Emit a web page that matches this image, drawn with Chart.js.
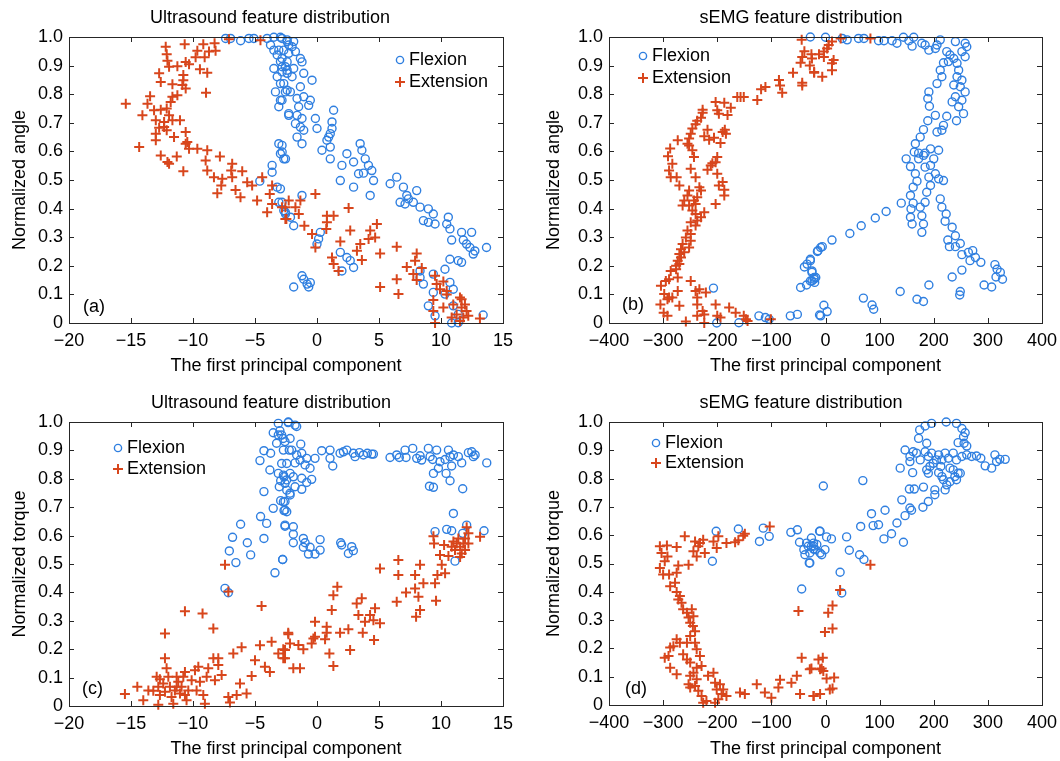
<!DOCTYPE html>
<html><head><meta charset="utf-8">
<script src="https://cdn.jsdelivr.net/npm/chart.js@4/dist/chart.umd.min.js"></script>
<style>
body{margin:0;background:#fff;width:1060px;height:761px;overflow:hidden;position:relative}
canvas{position:absolute;display:block}
</style></head>
<body>
<canvas id="ca" width="530" height="385" style="left:0;top:0"></canvas>
<canvas id="cb" width="530" height="385" style="left:530px;top:0"></canvas>
<canvas id="cc" width="530" height="376" style="left:0;top:385px"></canvas>
<canvas id="cd" width="530" height="376" style="left:530px;top:385px"></canvas>
<script>
// ---------- tick values ----------
const xTicksUS = [-20,-15,-10,-5,0,5,10,15];
const xTicksEMG = [-400,-300,-200,-100,0,100,200,300,400];
const yTicks = [0,0.1,0.2,0.3,0.4,0.5,0.6,0.7,0.8,0.9,1.0];

// ---------- (a) Ultrasound, angle ----------
const flexionA = [[-7.37,0.995],[-6.97,0.995],[-6.16,0.987],[-5.49,0.995],[-5.09,0.995],[-4.02,0.995],[-3.48,0.999],[-2.95,0.999],[-2.41,0.99],[-2.28,0.972],[-3.75,0.972],[-3.48,0.954],[-3.08,0.954],[-3.21,0.937],[-2.95,0.914],[-3.48,0.89],[-2.81,0.896],[-2.41,0.884],[-3.21,0.861],[-2.95,0.837],[-3.35,0.808],[-2.41,0.814],[-2.95,0.779],[-3.08,0.756],[-2.28,0.732],[-3.08,0.627],[-2.81,0.598],[-2.54,0.574],[-3.62,0.551],[-3.62,0.527],[-3.21,0.475],[-3.08,0.422],[-2.54,0.381],[-4.61,0.496],[-2.14,0.37],
[-2.82,0.995],[-2.41,0.984],[-2.01,0.966],[-1.88,0.984],[-2.68,0.954],[-2.28,0.943],[-1.74,0.949],[-1.34,0.925],[-2.82,0.925],[-2.41,0.913],[-2.55,0.896],[-1.88,0.89],[-1.21,0.913],[-2.82,0.878],[-2.41,0.873],[-2.01,0.861],[-1.07,0.873],[-0.4,0.849],[-2.68,0.837],[-1.34,0.826],[-2.15,0.808],[-2.55,0.808],[-2.82,0.779],[-1.61,0.785],[-1.07,0.791],[-0.54,0.779],[-0.67,0.761],[-1.48,0.756],[-2.28,0.726],[-1.61,0.726],[-1.21,0.715],[-1.74,0.697],[-1.34,0.685],[-1.07,0.674],[-1.61,0.65],[-1.21,0.627],[-2.82,0.621],[-2.68,0.574],[-2.95,0.592],
[0.4,0.604],[1.07,0.615],[1.07,0.574],[0.8,0.639],[0.94,0.65],[1.07,0.662],[1.21,0.68],[1.21,0.703],[1.34,0.744],[-0.13,0.715],[0.0,0.68],[2.01,0.551],[1.88,0.498],[2.41,0.592],[2.95,0.563],[3.35,0.522],[3.48,0.627],[3.62,0.604],[3.89,0.574],[4.15,0.551],[4.42,0.533],[4.56,0.498],[4.29,0.446],[2.95,0.475],[3.75,0.524],
[5.9,0.487],[6.43,0.51],[6.97,0.475],[7.24,0.446],[6.7,0.422],[7.1,0.416],[7.37,0.434],[8.04,0.463],[7.77,0.422],[8.31,0.405],[8.98,0.399],[9.38,0.381],[8.58,0.358],[8.98,0.352],[9.52,0.346],[10.59,0.37],[10.46,0.346],[10.72,0.329],[10.86,0.29],[11.66,0.317],[12.47,0.317],[11.8,0.29],[12.06,0.276],[12.33,0.264],[12.6,0.241],[12.73,0.252],[13.67,0.264],[10.72,0.223],[11.39,0.218],[11.66,0.212],[10.32,0.188],[8.31,0.182],[8.31,0.159],[9.38,0.171],[9.38,0.107],[8.98,0.06],[9.52,0.025],[10.99,0.118],[10.72,0.142],[10.99,0.06],[11.39,0.03],[10.86,0.0],[11.39,0.001],[13.4,0.028],[8.58,0.136],[10.32,0.101],
[-1.88,0.126],[-1.21,0.165],[-1.07,0.153],[-0.8,0.136],[-0.67,0.126],[-0.54,0.141],[0.27,0.317],[0.13,0.294],[0.0,0.276],[1.88,0.247],[2.41,0.229],[2.68,0.218],[2.95,0.194],[2.01,0.182],[-2.95,0.469],[-2.82,0.422],[-2.68,0.393],[-1.88,0.34],[-1.21,0.446],[-2.55,0.387]];
const extensionA = [[-12.2,0.966],[-10.67,0.975],[-9.17,0.975],[-8.26,0.978],[-9.65,0.952],[-8.71,0.949],[-8.18,0.952],[-12.12,0.94],[-9.79,0.929],[-9.06,0.929],[-12.06,0.917],[-10.59,0.913],[-11.93,0.896],[-11.26,0.898],[-10.32,0.905],[-9.44,0.887],[-8.85,0.875],[-12.73,0.873],[-12.6,0.843],[-10.78,0.867],[-10.78,0.849],[-11.66,0.835],[-10.86,0.832],[-10.59,0.82],[-8.95,0.805],[-13.46,0.793],[-11.66,0.791],[-11.26,0.796],[-15.42,0.767],[-13.67,0.767],[-11.8,0.773],[-14.08,0.726],[-13.14,0.744],[-12.6,0.746],[-12.12,0.75],[-11.93,0.726],[-13.0,0.709],[-12.33,0.703],[-11.66,0.709],[-11.05,0.709],[-12.73,0.683],[-12.33,0.685],[-13.0,0.662],[-12.12,0.674],[-11.53,0.65],[-13.0,0.639],[-10.59,0.668],[-10.46,0.633],[-14.34,0.615],[-10.59,0.627],[-10.32,0.609],[-9.65,0.609],[-8.85,0.604],[-12.6,0.586],[-11.93,0.557],[-11.31,0.582],[-12.06,0.563],[-10.78,0.531],[-8.98,0.568],[-7.83,0.582],[-8.85,0.533],[-8.31,0.51],[-7.64,0.504],[-7.72,0.481],[-6.84,0.557],[-6.92,0.533],[-6.03,0.531],[-6.84,0.51],[-5.63,0.492],[-5.23,0.481],[-6.57,0.465],[-6.17,0.44],[-8.04,0.454],[-4.83,0.428],[-4.42,0.51],[-3.62,0.481],[-3.81,0.451],[-3.62,0.416],[-4.02,0.387],[-2.82,0.405],[-2.47,0.364],[-4.56,0.989],[-7.1,0.992],
[-2.28,0.428],[-1.34,0.428],[-2.55,0.405],[-1.74,0.405],[-2.55,0.364],[-1.47,0.381],[-1.02,0.34],[-0.13,0.451],[0.8,0.375],[1.34,0.375],[0.8,0.352],[0.75,0.329],[-0.4,0.311],[-0.13,0.264],[2.55,0.402],[2.68,0.323],[1.88,0.285],[1.21,0.229],[1.34,0.206],[1.74,0.182],[3.49,0.276],[3.22,0.253],[3.62,0.22],[4.16,0.294],[4.29,0.323],[4.69,0.299],[4.83,0.346],[5.09,0.243],[6.43,0.267],[6.43,0.153],[6.57,0.101],[5.09,0.126],[7.24,0.196],[7.91,0.218],[8.04,0.243],[7.77,0.171],[8.04,0.15],[8.45,0.192],[9.52,0.165],[10.19,0.145],[9.92,0.118],[10.46,0.112],[9.38,0.08],[10.19,0.054],[10.99,0.065],[11.53,0.089],[11.66,0.054],[12.06,0.042],[11.8,0.019],[11.26,0.03],[12.2,0.025],[13.14,0.016],[9.38,0.042],[9.52,0.0],[10.86,0.019],[11.53,0.007],[11.66,0.083],[11.93,0.065],[10.46,0.1],[9.65,0.136]];

// ---------- (b) sEMG, angle ----------
const flexionB = [[-207,0.122],[-201,0.0],[-160,0.001],[-123,0.025],[-111,0.019],[-104,0.013],[-65,0.025],[-52,0.03],[-11,0.028],[-46,0.124],[-35,0.133],[-28,0.147],[-21,0.153],[-39,0.196],[-34,0.206],[-28,0.223],[-25,0.177],[-18,0.159],[-14,0.253],[-9,0.264],
[-28,1.0],[0,0.999],[31,0.995],[40,0.99],[61,0.995],[71,0.995],[98,0.987],[108,0.987],[123,0.987],[132,0.978],[144,0.999],[154,0.987],[160,0.968],[163,0.999],[178,0.978],[184,0.972],[191,0.954],[203,0.96],[206,0.972],[212,0.99],[240,0.984],[258,0.978],[261,0.966],
[224,0.949],[230,0.937],[227,0.914],[218,0.91],[212,0.884],[215,0.861],[206,0.837],[191,0.808],[189,0.785],[192,0.758],[237,0.925],[243,0.908],[252,0.949],[258,0.931],[246,0.884],[243,0.861],[252,0.849],[249,0.826],[258,0.808],[237,0.832],[240,0.791],[234,0.773],[246,0.756],[252,0.779],[255,0.732],[242,0.707],[224,0.723],[218,0.691],[215,0.674],[206,0.668],[203,0.726],[189,0.707],[181,0.676],[175,0.65],[166,0.627],[164,0.598],[172,0.594],[184,0.594],[194,0.609],[209,0.604],[200,0.574],[181,0.586],[172,0.574],[149,0.574],[157,0.547],[166,0.522],[169,0.496],[162,0.475],[157,0.446],[162,0.419],[158,0.399],[157,0.37],[160,0.346],[175,0.405],[178,0.375],[181,0.346],[178,0.317],[184,0.422],[187,0.457],[194,0.481],[191,0.51],[184,0.545],[194,0.551],[203,0.522],[209,0.504],[218,0.498],[212,0.434],[215,0.405],[223,0.381],[221,0.356],[234,0.335],[240,0.305],[226,0.29],[229,0.267],[240,0.267],[249,0.278],[252,0.239],[264,0.247],[272,0.253],[267,0.218],[277,0.229],[287,0.212],[252,0.185],[234,0.161],[313,0.204],[317,0.188],[323,0.177],[327,0.153],[315,0.161],[293,0.133],[307,0.126],[249,0.11],[248,0.098],[191,0.133],[169,0.083],[181,0.075],[138,0.11],[86,0.063],[89,0.048],[70,0.087],[-3,0.062],[3,0.04],[-9,0.025],
[12,0.29],[-6,0.267],[-15,0.25],[-28,0.218],[-25,0.182],[-21,0.159],[-20,0.142],[-25,0.147],[45,0.313],[66,0.34],[92,0.367],[112,0.39],[140,0.419]];
const extensionB = [[-44,0.99],[-39,0.95],[-43,0.93],[-26,0.94],[-12,0.94],[-29,0.9],[-21,0.875],[-46,0.91],[-60,0.875],[-43,0.84],[-43,0.83],[-86,0.85],[-84,0.83],[-80,0.805],[-111,0.825],[-119,0.817],[-126,0.78],[-151,0.79],[-157,0.79],[-163,0.79],
[83,0.995],[28,0.995],[12,0.984],[6,0.972],[3,0.96],[-3,0.949],[-3,0.93],[-25,0.925],[-21,0.878],[-6,0.861],[15,0.92],[12,0.908],[12,0.884],
[-203,0.773],[-187,0.77],[-175,0.753],[-200,0.744],[-197,0.732],[-181,0.727],[-227,0.746],[-227,0.735],[-230,0.718],[-237,0.707],[-240,0.695],[-246,0.68],[-249,0.662],[-252,0.645],[-255,0.627],[-218,0.676],[-224,0.653],[-215,0.641],[-186,0.676],[-184,0.662],[-206,0.648],[-194,0.629],[-190,0.668],[-273,0.639],[-287,0.61],[-291,0.583],[-283,0.557],[-289,0.533],[-286,0.51],[-275,0.51],[-270,0.481],[-252,0.621],[-246,0.604],[-243,0.58],[-249,0.539],[-240,0.51],[-233,0.475],[-230,0.463],[-212,0.551],[-218,0.536],[-209,0.559],[-200,0.58],[-203,0.562],[-200,0.522],[-197,0.481],[-190,0.493],[-187,0.466],[-187,0.446],[-203,0.416],[-252,0.463],[-255,0.446],[-261,0.428],[-264,0.411],[-252,0.411],[-246,0.393],[-240,0.416],[-237,0.44],[-243,0.428],[-240,0.381],[-237,0.358],[-240,0.341],[-224,0.387],[-230,0.37],[-249,0.352],[-255,0.323],[-258,0.299],[-264,0.276],[-267,0.258],[-270,0.241],[-273,0.218],[-276,0.2],[-249,0.311],[-249,0.288],[-252,0.264],[-261,0.247],[-267,0.229],[-270,0.206],[-276,0.188],[-273,0.159],[-286,0.182],[-289,0.153],[-295,0.147],[-304,0.13],[-298,0.101],[-292,0.083],[-289,0.089],[-305,0.065],[-299,0.036],[-292,0.025],[-283,0.089],[-273,0.112],[-270,0.06],[-258,0.005],[-249,0.147],[-240,0.112],[-237,0.089],[-237,0.065],[-233,0.118],[-221,0.107],[-227,0.042],[-224,0.03],[-224,0.0],[-203,0.065],[-200,0.025],[-194,0.019],[-178,0.054],[-166,0.036],[-151,0.025],[-147,0.013],[-144,0.007],[-101,0.013],[-237,0.025]];

// ---------- (c) Ultrasound, torque ----------
const flexionC = [[-7.42,0.414],[-7.15,0.399],[-7.07,0.546],[-6.81,0.594],[-6.54,0.505],[-6.16,0.64],[-5.62,0.575],[-5.35,0.532],[-4.6,0.864],[-4.55,0.667],[-4.28,0.755],[-4.28,0.59],[-4.06,0.643],[-4.28,0.899],[-3.8,0.831],[-3.74,0.89],[-3.53,0.962],[-3.53,0.696],[-3.39,0.469],[-3.26,0.925],[-3.12,0.995],[-3.12,0.954],[-3.12,0.819],[-3.04,0.772],[-2.93,0.723],[-2.85,0.854],[-2.77,0.516],[-2.72,0.942],[-2.66,0.688],[-2.58,0.637],[-2.45,0.796],[-2.32,0.998],[-2.24,0.901],[-2.18,0.749],[-2.99,0.969],[-2.66,0.807],[-2.93,0.793],[-2.58,0.72],
[-2.31,1.0],[-1.77,0.989],[-1.64,0.984],[-2.85,0.954],[-2.58,0.931],[-2.17,0.942],[-2.71,0.901],[-2.04,0.901],[-1.31,0.922],[-1.64,0.884],[-1.23,0.89],[-2.44,0.854],[-1.77,0.856],[-1.37,0.866],[-0.83,0.872],[-0.96,0.849],[-0.16,0.872],[-0.56,0.837],[-2.71,0.813],[-2.17,0.819],[-1.91,0.807],[-1.23,0.802],[-0.43,0.798],[-0.83,0.787],[-2.58,0.784],[-1.77,0.772],[-2.44,0.76],[-1.23,0.763],[-2.17,0.743],[-2.71,0.719],[-2.58,0.69],[-2.44,0.684],[-2.58,0.633],[-1.91,0.631],[-1.91,0.605],[-1.91,0.575],[-1.1,0.59],[-0.96,0.575],[-1.1,0.559],[-0.56,0.559],[-0.69,0.535],[-0.16,0.535],[0.25,0.549],[0.25,0.586],[-2.77,0.516],[1.91,0.575],[1.99,0.567],[2.53,0.537],[2.8,0.561],[2.93,0.547],
[0.38,0.899],[1.05,0.901],[1.05,0.872],[1.27,0.845],[1.86,0.89],[2.13,0.895],[2.4,0.901],[2.93,0.89],[3.07,0.878],[3.42,0.892],[3.74,0.884],[4.06,0.89],[4.41,0.887],[4.55,0.887],[5.89,0.875],[6.43,0.884],[6.64,0.875],[7.1,0.901],[7.18,0.875],[7.72,0.907],[8.04,0.872],[8.31,0.881],[8.44,0.866],[8.98,0.907],[9.12,0.878],[9.33,0.868],[9.65,0.901],[9.39,0.819],[9.79,0.837],[9.92,0.86],[10.33,0.868],[10.41,0.819],[10.6,0.901],[10.73,0.878],[10.73,0.793],[10.86,0.845],[11.0,0.884],[11.4,0.878],[11.67,0.856],[11.75,0.765],[12.21,0.892],[12.48,0.895],[12.61,0.878],[12.75,0.884],[13.69,0.856],[9.07,0.774],[9.39,0.77],[11.0,0.678],[9.52,0.614],[10.46,0.622],[10.86,0.617],[11.13,0.51],[12.07,0.637],[13.47,0.617],[11.75,0.608]];
const extensionC = [[-15.49,0.042],[-14.49,0.068],[-14.01,0.02],[-13.6,0.055],[-13.2,0.054],[-12.8,0.068],[-12.67,0.039],[-12.8,0.004],[-12.4,0.079],[-12.26,0.05],[-12.26,0.255],[-12.26,0.168],[-12.13,0.133],[-11.99,0.103],[-11.86,0.068],[-11.73,0.032],[-11.59,0.008],[-11.46,0.055],[-11.32,0.103],[-11.19,0.085],[-11.05,0.044],[-10.92,0.068],[-10.78,0.103],[-10.65,0.12],[-10.65,0.334],[-10.65,0.039],[-10.52,0.02],[-10.38,0.055],[-10.11,0.091],[-9.84,0.126],[-9.71,0.055],[-9.57,0.138],[-9.44,0.085],[-9.23,0.326],[-9.17,0.039],[-9.04,0.008],[-8.9,0.103],[-8.77,0.133],[-8.36,0.273],[-8.36,0.168],[-8.23,0.091],[-7.96,0.168],[-7.96,0.144],[-7.69,0.109],[-7.42,0.497],[-7.15,0.403],[-7.15,0.032],[-7.02,0.012],[-6.75,0.185],[-6.48,0.039],[-6.21,0.079],[-6.08,0.207],[-5.68,0.044],[-5.27,0.106],[-5.0,0.161],[-4.6,0.214],[-4.47,0.352],[-4.2,0.138],[-3.8,0.12],[-3.66,0.226],[-3.12,0.185],[-2.72,0.168],[-2.72,0.2],[-2.32,0.258],[-2.18,0.22],[-12.67,0.094],[-12.93,0.103],[-11.32,0.068],
[-2.58,0.197],[-2.58,0.168],[-2.31,0.253],[-1.91,0.133],[-1.5,0.215],[-1.37,0.133],[-1.1,0.2],[-0.43,0.22],[-0.29,0.238],[-0.16,0.297],[-0.16,0.244],[0.65,0.235],[0.78,0.279],[0.78,0.258],[1.0,0.185],[1.32,0.141],[1.19,0.338],[1.32,0.39],[1.64,0.42],[1.86,0.258],[2.53,0.27],[2.67,0.197],[3.2,0.361],[3.34,0.32],[3.61,0.379],[3.69,0.258],[3.87,0.297],[4.28,0.32],[4.55,0.302],[4.68,0.344],[4.6,0.232],[5.08,0.484],[5.08,0.291],[6.43,0.367],[6.56,0.514],[6.56,0.461],[7.18,0.4],[7.91,0.461],[7.91,0.414],[7.99,0.314],[8.18,0.385],[8.31,0.497],[8.31,0.338],[8.58,0.432],[9.39,0.598],[9.44,0.572],[9.52,0.432],[9.6,0.371],[9.71,0.461],[9.92,0.532],[10.06,0.497],[10.25,0.567],[10.33,0.467],[10.6,0.528],[10.86,0.561],[11.0,0.579],[11.13,0.549],[11.27,0.572],[11.4,0.59],[11.54,0.561],[11.67,0.537],[11.8,0.572],[11.94,0.59],[12.07,0.629],[12.21,0.608],[12.21,0.572],[11.94,0.549],[11.54,0.525],[13.15,0.596]];

// ---------- (d) sEMG, torque ----------
const flexionD = [[-209,0.508],[-202,0.614],[-161,0.622],[-122,0.578],[-115,0.625],[-104,0.596],[-64,0.61],[-52,0.619],[-48,0.575],[-44,0.41],[-40,0.549],[-38,0.531],[-35,0.572],[-32,0.561],[-30,0.502],[-29,0.537],[-26,0.59],[-22,0.561],[-19,0.549],[-11,0.614],[-10,0.537],
[-29,0.502],[-26,0.561],[-22,0.572],[-16,0.567],[-22,0.551],[-7,0.531],[-1,0.549],[-10,0.614],[2,0.594],[11,0.587],[-4,0.774],[27,0.469],[30,0.396],[39,0.594],[44,0.547],[63,0.531],[71,0.514],[65,0.631],[69,0.793],[85,0.676],[88,0.634],[98,0.637],[110,0.688],[108,0.587],[122,0.605],[132,0.643],[144,0.575],[141,0.725],[147,0.669],[156,0.696],[159,0.688],[155,0.763],[164,0.763],[161,0.821],[138,0.837],[181,0.77],[180,0.699],[190,0.719],[202,0.76],[202,0.743],
[147,0.901],[156,0.878],[156,0.86],[162,0.895],[168,0.89],[175,0.866],[184,0.895],[187,0.925],[190,0.878],[196,0.89],[199,0.854],[209,0.884],[215,0.866],[221,0.89],[227,0.872],[236,0.89],[242,0.866],[252,0.878],[261,0.884],[270,0.878],[279,0.88],[287,0.872],[295,0.845],[307,0.837],[313,0.884],[316,0.86],[322,0.868],[332,0.868],[172,0.942],[174,0.972],[184,0.986],[196,0.995],[223,1.0],[242,0.995],[252,0.977],[258,0.962],[255,0.948],[256,0.925],[245,0.927],[261,0.915],[187,0.831],[190,0.819],[209,0.821],[215,0.807],[218,0.796],[224,0.778],[221,0.76],[230,0.789],[239,0.807],[242,0.796],[245,0.819],[249,0.819],[230,0.837],[236,0.831],[205,0.866],[193,0.843],[213,0.843]];
const extensionD = [[-306,0.561],[-303,0.537],[-293,0.564],[-292,0.525],[-297,0.508],[-306,0.484],[-300,0.461],[-289,0.461],[-275,0.467],[-272,0.493],[-253,0.496],[-275,0.558],[-260,0.596],[-241,0.578],[-244,0.543],[-238,0.525],[-235,0.561],[-232,0.572],[-226,0.584],[-223,0.537],[-207,0.578],[-201,0.555],[-198,0.596],[-183,0.572],[-167,0.575],[-161,0.582],[-152,0.598],[-149,0.605],[-103,0.631],
[-287,0.42],[-278,0.432],[-275,0.399],[-272,0.373],[-269,0.385],[-266,0.361],[-263,0.338],[-256,0.326],[-253,0.309],[-250,0.291],[-247,0.338],[-244,0.314],[-245,0.279],[-241,0.261],[-250,0.244],[-256,0.22],[-269,0.22],[-275,0.232],[-281,0.208],[-287,0.203],[-290,0.173],[-297,0.167],[-287,0.132],[-275,0.109],[-263,0.179],[-256,0.161],[-250,0.15],[-241,0.22],[-238,0.197],[-232,0.173],[-238,0.132],[-229,0.138],[-244,0.114],[-250,0.103],[-253,0.073],[-250,0.062],[-241,0.067],[-238,0.091],[-235,0.05],[-229,0.032],[-226,0.008],[-220,0.014],[-217,0.103],[-207,0.114],[-204,0.079],[-201,0.055],[-195,0.073],[-192,0.039],[-189,0.055],[-183,0.032],[-198,0.02],[-204,0.008],[-158,0.044],[-149,0.039],[-127,0.073],[-112,0.044],[-100,0.026],[-87,0.062],[-84,0.089],[-63,0.079],[-53,0.103],[-47,0.039],[-44,0.167],[-29,0.126],[-22,0.032],[-13,0.161],[-10,0.126],[-50,0.332],
[-26,0.129],[-7,0.129],[-5,0.167],[-4,0.12],[2,0.094],[16,0.097],[8,0.055],[13,0.058],[-22,0.032],[-10,0.039],[-1,0.258],[13,0.27],[5,0.326],[13,0.352],[27,0.406],[83,0.496]];

// ---------- styling ----------
const BLUE = '#2f7fe0';
const RED = '#d8461c';
const FONT = '"Liberation Sans", Arial, Helvetica, sans-serif';
Chart.defaults.font.family = FONT;
Chart.defaults.color = '#000';

const framePlugin = {
  id: 'frame',
  afterDraw(chart, args, o) {
    const ctx = chart.ctx, a = chart.chartArea;
    const xs = chart.scales.x, ys = chart.scales.y;
    ctx.save();
    ctx.strokeStyle = '#262626';
    ctx.lineWidth = 1;
    ctx.strokeRect(Math.round(a.left) + 0.5, Math.round(a.top) + 0.5, Math.round(a.right - a.left), Math.round(a.bottom - a.top));
    ctx.beginPath();
    xs.ticks.forEach(t => {
      const p = Math.round(xs.getPixelForValue(t.value)) + 0.5;
      ctx.moveTo(p, a.bottom); ctx.lineTo(p, a.bottom - 5);
      ctx.moveTo(p, a.top); ctx.lineTo(p, a.top + 5);
    });
    ys.ticks.forEach(t => {
      const p = Math.round(ys.getPixelForValue(t.value)) + 0.5;
      ctx.moveTo(a.left, p); ctx.lineTo(a.left + 5, p);
      ctx.moveTo(a.right, p); ctx.lineTo(a.right - 5, p);
    });
    ctx.stroke();
    // title
    ctx.fillStyle = '#000';
    ctx.font = '18px ' + FONT;
    ctx.textAlign = 'center';
    ctx.textBaseline = 'middle';
    ctx.fillText(o.title, o.titleX, o.titleY);
    // panel label
    ctx.textAlign = 'left';
    ctx.fillText(o.label, o.labelX, o.labelY);
    // legend
    const L = o.legend;
    ctx.fillText('Flexion', L.x + 9, L.y1);
    ctx.fillText('Extension', L.x + 9, L.y2);
    ctx.strokeStyle = BLUE; ctx.lineWidth = 1.4;
    ctx.beginPath(); ctx.arc(L.x, L.y1, 3.6, 0, Math.PI * 2); ctx.stroke();
    ctx.strokeStyle = RED; ctx.lineWidth = 2;
    ctx.beginPath();
    ctx.moveTo(L.x - 5, L.y2); ctx.lineTo(L.x + 5, L.y2);
    ctx.moveTo(L.x, L.y2 - 5); ctx.lineTo(L.x, L.y2 + 5);
    ctx.stroke();
    ctx.restore();
  }
};

function fmtX(v) { return v < 0 ? '\u2212' + Math.abs(v) : String(v); }
function fmtY(v) { return v === 0 ? '0' : v.toFixed(1); }

function makeChart(id, cfg) {
  const toPts = arr => arr.map(p => ({x: p[0], y: p[1]}));
  new Chart(document.getElementById(id), {
    type: 'scatter',
    data: {
      datasets: [
        {label: 'Extension', data: toPts(cfg.ext), pointStyle: 'cross', pointRadius: 5, pointBorderWidth: 2,
         borderColor: RED, backgroundColor: RED, order: 0, clip: false},
        {label: 'Flexion', data: toPts(cfg.flex), pointStyle: 'circle', pointRadius: 4, pointBorderWidth: 1.4,
         borderColor: BLUE, backgroundColor: 'rgba(0,0,0,0)', order: 1, clip: false}
      ]
    },
    options: {
      responsive: false,
      animation: false,
      devicePixelRatio: 1,
      events: [],
      layout: {padding: {left: 0, top: 37, right: cfg.padRight, bottom: 0}},
      plugins: {
        legend: {display: false},
        title: {display: false},
        tooltip: {enabled: false},
        frame: cfg.frame
      },
      scales: {
        x: {
          type: 'linear', min: cfg.xTicks[0], max: cfg.xTicks[cfg.xTicks.length - 1],
          afterBuildTicks: s => { s.ticks = cfg.xTicks.map(v => ({value: v})); },
          afterFit: s => { s.height = cfg.xHeight; s.paddingLeft = 0; s.paddingRight = 0; },
          grid: {display: false, drawTicks: false},
          border: {display: false},
          ticks: {callback: fmtX, font: {size: 18}, color: '#000', padding: 7, maxRotation: 0, autoSkip: false},
          title: {display: true, text: 'The first principal component', font: {size: 18}, color: '#000',
                  padding: {top: 0, bottom: cfg.xTitlePad}}
        },
        y: {
          type: 'linear', min: 0, max: 1,
          afterBuildTicks: s => { s.ticks = yTicks.map(v => ({value: v})); },
          afterFit: s => { s.width = cfg.yWidth; s.paddingTop = 0; s.paddingBottom = 0; },
          grid: {display: false, drawTicks: false},
          border: {display: false},
          ticks: {callback: fmtY, font: {size: 18}, color: '#000', padding: 6, autoSkip: false},
          title: {display: true, text: cfg.yTitle, font: {size: 18}, color: '#000',
                  padding: {top: cfg.yTitlePad, bottom: 0}}
        }
      }
    },
    plugins: [framePlugin]
  });
}

makeChart('ca', {flex: flexionA, ext: extensionA, xTicks: xTicksUS, padRight: 27, xHeight: 62, xTitlePad: 8,
  yWidth: 69, yTitlePad: 9, yTitle: 'Normalized angle',
  frame: {title: 'Ultrasound feature distribution', titleX: 270, titleY: 18, label: '(a)', labelX: 83, labelY: 307,
          legend: {x: 400, y1: 60, y2: 82}}});
makeChart('cb', {flex: flexionB, ext: extensionB, xTicks: xTicksEMG, padRight: 18, xHeight: 62, xTitlePad: 8,
  yWidth: 79, yTitlePad: 13, yTitle: 'Normalized angle',
  frame: {title: 'sEMG feature distribution', titleX: 271, titleY: 18, label: '(b)', labelX: 92, labelY: 305,
          legend: {x: 113, y1: 56, y2: 78}}});
makeChart('cc', {flex: flexionC, ext: extensionC, xTicks: xTicksUS, padRight: 27, xHeight: 55, xTitlePad: 1,
  yWidth: 69, yTitlePad: 9, yTitle: 'Normalized torque',
  frame: {title: 'Ultrasound feature distribution', titleX: 271, titleY: 18, label: '(c)', labelX: 82, labelY: 304,
          legend: {x: 118, y1: 63, y2: 84}}});
makeChart('cd', {flex: flexionD, ext: extensionD, xTicks: xTicksEMG, padRight: 18, xHeight: 56, xTitlePad: 1,
  yWidth: 79, yTitlePad: 13, yTitle: 'Normalized torque',
  frame: {title: 'sEMG feature distribution', titleX: 271, titleY: 18, label: '(d)', labelX: 95, labelY: 304,
          legend: {x: 126, y1: 58, y2: 78}}});
</script>
</body></html>
